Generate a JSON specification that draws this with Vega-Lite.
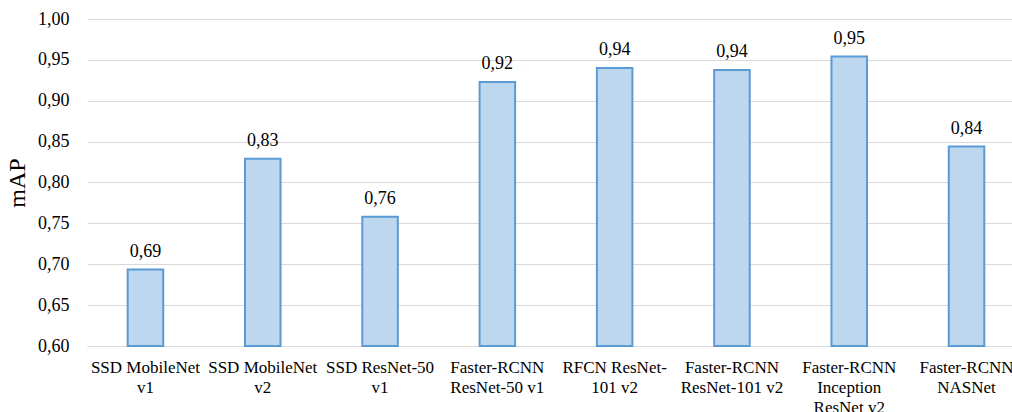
{
  "$schema": "https://vega.github.io/schema/vega-lite/v6.json",
  "width": 925,
  "height": 327,
  "autosize": "none",
  "padding": {"left": 87, "top": 19, "right": 0, "bottom": 66},
  "background": "white",
  "config": {
    "view": {"stroke": null},
    "font": "Liberation Serif, Times New Roman, serif",
    "locale": {"number": {"decimal": ",", "thousands": ".", "grouping": [3], "currency": ["", ""]}}
  },
  "data": {
    "values": [
      {"model": "SSD MobileNet\nv1", "mAP": 0.6935},
      {"model": "SSD MobileNet\nv2", "mAP": 0.829},
      {"model": "SSD ResNet-50\nv1", "mAP": 0.758},
      {"model": "Faster-RCNN\nResNet-50 v1", "mAP": 0.923},
      {"model": "RFCN ResNet-\n101 v2", "mAP": 0.940},
      {"model": "Faster-RCNN\nResNet-101 v2", "mAP": 0.9375},
      {"model": "Faster-RCNN\nInception\nResNet v2", "mAP": 0.954},
      {"model": "Faster-RCNN\nNASNet", "mAP": 0.844}
    ]
  },
  "encoding": {
    "x": {
      "field": "model",
      "type": "nominal",
      "sort": null,
      "scale": {"paddingInner": 0.697, "paddingOuter": 0.2915, "align": 0.595},
      "axis": {
        "title": null,
        "labelAngle": 0,
        "labelExpr": "split(datum.label, '\\n')",
        "labelFont": "Liberation Serif, Times New Roman, serif",
        "labelFontSize": 17,
        "labelLineHeight": 20,
        "labelColor": "#000000",
        "labelPadding": 13,
        "labelLimit": 200,
        "ticks": false,
        "tickSize": 0,
        "domain": true,
        "domainColor": "#D9D9D9",
        "domainWidth": 1
      }
    },
    "y": {
      "field": "mAP",
      "type": "quantitative",
      "scale": {"domain": [0.6, 1.0], "zero": false, "nice": false},
      "axis": {
        "title": "mAP",
        "titleFont": "Liberation Serif, Times New Roman, serif",
        "titleFontSize": 24,
        "titleFontWeight": "normal",
        "titleColor": "#000000",
        "titlePadding": 8,
        "values": [0.6, 0.65, 0.7, 0.75, 0.8, 0.85, 0.9, 0.95, 1.0],
        "format": ".2f",
        "labelFont": "Liberation Serif, Times New Roman, serif",
        "labelFontSize": 18,
        "labelColor": "#000000",
        "labelPadding": 18,
        "ticks": false,
        "tickSize": 0,
        "domain": false,
        "grid": true,
        "gridColor": "#D9D9D9",
        "gridWidth": 1
      }
    }
  },
  "layer": [
    {
      "mark": {"type": "bar", "fill": "#BDD7EE", "stroke": "#5B9BD5", "strokeWidth": 2},
      "encoding": {"y2": {"datum": 0.6}}
    },
    {
      "mark": {"type": "text", "baseline": "alphabetic", "dy": -13, "fontSize": 18, "font": "Liberation Serif, Times New Roman, serif", "color": "#000000"},
      "encoding": {
        "text": {"field": "mAP", "type": "quantitative", "format": ".2f"}
      }
    }
  ]
}
